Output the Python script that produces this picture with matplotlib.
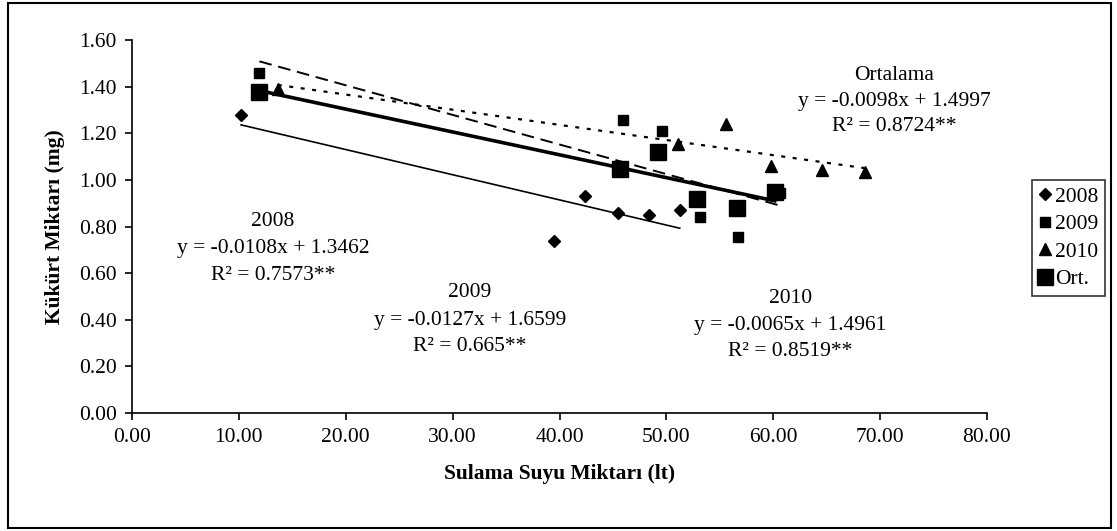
import numpy as np
import matplotlib
matplotlib.use("Agg")
import matplotlib.pyplot as plt
from matplotlib.patches import Rectangle
from matplotlib.ticker import MultipleLocator, FormatStrFormatter

# ---- data ----
x2008 = [10.2, 39.45, 42.35, 45.44, 48.35, 51.25]
y2008 = [1.28, 0.74, 0.93, 0.86, 0.85, 0.87]
x2009 = [11.92, 45.94, 49.56, 53.12, 56.71, 60.6]
y2009 = [1.46, 1.257, 1.209, 0.842, 0.754, 0.943]
x2010 = [13.64, 51.06, 55.55, 59.8, 64.6, 68.54]
y2010 = [1.392, 1.153, 1.239, 1.059, 1.042, 1.034]
xort = [11.92, 45.63, 49.19, 52.87, 56.62, 60.14]
yort = [1.375, 1.045, 1.121, 0.919, 0.880, 0.949]

series_names = ["2008", "2009", "2010", "Ort."]
slopes = [-0.0108, -0.0127, -0.0065, -0.0098]
intercepts = [1.3462, 1.6599, 1.4961, 1.4997]
eq_titles = ["2008", "2009", "2010", "Ortalama"]
eq_texts = ["y = -0.0108x + 1.3462", "y = -0.0127x + 1.6599",
            "y = -0.0065x + 1.4961", "y = -0.0098x + 1.4997"]
r2_texts = ["R\u00b2 = 0.7573**", "R\u00b2 = 0.665**",
            "R\u00b2 = 0.8519**", "R\u00b2 = 0.8724**"]

xlabel = "Sulama Suyu Miktarı (lt)"
ylabel = "Kükürt Miktarı (mg)"

plt.rcParams['font.family'] = ['Liberation Serif', 'DejaVu Serif']
FS = 15.5

fig = plt.figure(figsize=(11.17, 5.31), dpi=100)
ax = fig.add_axes([0.1182, 0.2222, 0.7654, 0.7024])

xs_all = [x2008, x2009, x2010, xort]
ys_all = [y2008, y2009, y2010, yort]
markers = ['D', 's', '^', 's']
msizes = [6.5, 7.5, 9.0, 12.0]
line_styles = [dict(lw=1.2, ls='-'),
               dict(lw=1.4, ls=(0, (6.5, 3.5))),
               dict(lw=1.6, ls=(0, (1.8, 3.4))),
               dict(lw=2.6, ls='-')]

for xs, m, b, st in zip(xs_all, slopes, intercepts, line_styles):
    xx = np.array([min(xs), max(xs)])
    ax.plot(xx, m * xx + b, color='black', zorder=2, **st)

handles = []
for xs, ys, mk, ms, name in zip(xs_all, ys_all, markers, msizes, series_names):
    h, = ax.plot(xs, ys, linestyle='none', marker=mk, markersize=ms,
                 color='black', label=name, zorder=3)
    handles.append(h)

ax.set_xlim(0, 80)
ax.set_ylim(0, 1.6)
ax.xaxis.set_major_locator(MultipleLocator(10))
ax.yaxis.set_major_locator(MultipleLocator(0.2))
ax.xaxis.set_major_formatter(FormatStrFormatter('%.2f'))
ax.yaxis.set_major_formatter(FormatStrFormatter('%.2f'))
ax.tick_params(direction='out', length=5, width=1.2, labelsize=FS, pad=6,
               colors='black')
for s in ['top', 'right']:
    ax.spines[s].set_visible(False)
for s in ['left', 'bottom']:
    ax.spines[s].set_linewidth(1.2)
    ax.spines[s].set_color('black')

ax.set_xlabel(xlabel, fontsize=FS, fontweight='bold', labelpad=12)
ax.set_ylabel(ylabel, fontsize=FS, fontweight='bold', labelpad=10)

# equation annotations (data coords): centre x, y of each of the 3 lines
ann_x = [13.2, 31.6, 61.6, 71.3]
ann_y = [[0.823, 0.705, 0.589],
         [0.515, 0.396, 0.285],
         [0.49, 0.375, 0.265],
         [1.45, 1.335, 1.23]]
for t, e, r, xc, yl in zip(eq_titles, eq_texts, r2_texts, ann_x, ann_y):
    for s, yy in zip([t, e, r], yl):
        ax.text(xc, yy, s, ha='center', va='center', fontsize=FS, zorder=4)

leg = fig.legend(handles=handles, loc='center left',
                 bbox_to_anchor=(0.924, 0.552), fontsize=FS, frameon=True,
                 fancybox=False, edgecolor='black', handlelength=0.6,
                 handletextpad=0.15, borderpad=0.3, labelspacing=0.35,
                 borderaxespad=0, markerscale=1.0)
leg.get_frame().set_linewidth(1.2)

fig.patches.append(Rectangle((0.007, 0.006), 0.988, 0.988, transform=fig.transFigure,
                             fill=False, edgecolor='black', lw=1.5))

fig.savefig('out.png', dpi=100)
